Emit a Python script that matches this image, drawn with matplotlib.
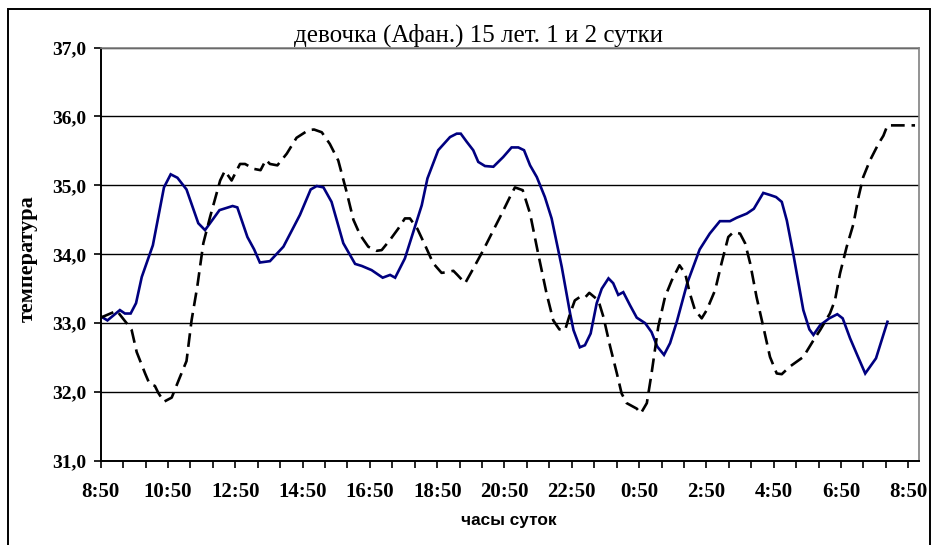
import matplotlib
matplotlib.use("Agg")
import matplotlib.pyplot as plt
from matplotlib.patches import Rectangle
import numpy as np

# Hours elapsed since 8:50 on day 1, and skin temperature readings
day1_hours = [
    0.00, 0.20, 0.57, 0.72, 0.89, 1.05, 1.22, 1.55, 1.88, 2.08, 2.28, 2.55,
    2.90, 3.10, 3.53, 3.92, 4.06, 4.36, 4.56, 4.73, 5.03, 5.43, 5.92, 6.24,
    6.42, 6.62, 6.86, 7.21, 7.56, 7.76, 8.05, 8.38, 8.60, 8.75, 9.04, 9.54,
    9.71, 10.03, 10.38, 10.58, 10.70, 10.88, 11.07, 11.22, 11.42, 11.67,
    11.96, 12.21, 12.41, 12.58, 12.76, 12.96, 13.20, 13.40, 13.70, 13.95,
    14.05, 14.24, 14.39, 14.56, 14.74, 14.89, 15.09, 15.23, 15.38, 15.53,
    15.73, 15.93, 16.18, 16.37, 16.54, 16.74, 16.92, 17.12, 17.43, 17.80,
    18.10, 18.40, 18.70, 18.90, 19.20, 19.41, 19.69, 19.89, 20.07, 20.24,
    20.39, 20.58, 20.88, 21.06, 21.18, 21.38, 21.65, 21.89, 22.05, 22.27,
    22.48, 22.72, 23.04, 23.38,
]
day1_temp = [
    33.10, 33.04, 33.19, 33.14, 33.14, 33.29, 33.67, 34.13, 34.97, 35.16,
    35.11, 34.94, 34.45, 34.35, 34.64, 34.70, 34.68, 34.25, 34.07, 33.88,
    33.90, 34.11, 34.57, 34.94, 34.99, 34.97, 34.76, 34.16, 33.86, 33.83,
    33.77, 33.66, 33.70, 33.66, 33.94, 34.71, 35.10, 35.51, 35.70, 35.75,
    35.75, 35.63, 35.51, 35.34, 35.28, 35.27, 35.41, 35.55, 35.55, 35.51,
    35.29, 35.12, 34.83, 34.52, 33.82, 33.14, 32.90, 32.65, 32.68, 32.85,
    33.29, 33.50, 33.65, 33.58, 33.41, 33.45, 33.26, 33.08, 33.00, 32.87,
    32.66, 32.54, 32.71, 33.02, 33.58, 34.07, 34.30, 34.48, 34.48, 34.53,
    34.59, 34.66, 34.89, 34.86, 34.83, 34.76, 34.49, 34.01, 33.19, 32.91,
    32.83, 32.97, 33.07, 33.13, 33.07, 32.78, 32.54, 32.27, 32.49, 33.02,
]

day2_hours = [
    0.00, 0.48, 0.77, 0.92, 1.07, 1.32, 1.45, 1.61, 1.71, 1.88, 2.11, 2.34,
    2.55, 2.70, 2.87, 3.05, 3.25, 3.55, 3.69, 3.89, 4.14, 4.29, 4.54, 4.75,
    4.91, 5.03, 5.25, 5.53, 5.82, 6.17, 6.34, 6.57, 6.81, 7.06, 7.31, 7.51,
    7.71, 7.95, 8.20, 8.35, 8.60, 8.84, 9.04, 9.19, 9.41, 9.64, 9.88, 10.13,
    10.30, 10.48, 10.60, 10.83, 11.07, 11.37, 11.67, 11.92, 12.16, 12.31,
    12.54, 12.76, 13.00, 13.25, 13.45, 13.63, 13.80, 13.95, 14.09, 14.24,
    14.39, 14.52, 14.79, 14.94, 15.14, 15.34, 15.48, 15.63, 15.93, 16.05,
    16.23, 16.37, 16.57, 16.77, 16.97, 17.20, 17.37, 17.51, 17.66, 17.86,
    18.01, 18.26, 18.45, 18.65, 18.80, 19.00, 19.15, 19.30, 19.49, 19.69,
    19.89, 20.09, 20.24, 20.48, 20.88, 21.18, 21.38, 21.67, 21.82, 21.97,
    22.17, 22.37, 22.52, 22.66, 22.86, 23.11, 23.26, 23.38, 24.20,
]
day2_temp = [
    33.08, 33.18, 33.00, 32.90, 32.58, 32.27, 32.12, 32.09, 31.99, 31.86,
    31.92, 32.20, 32.45, 33.04, 33.53, 34.16, 34.54, 35.07, 35.21, 35.07,
    35.31, 35.31, 35.24, 35.22, 35.37, 35.31, 35.29, 35.46, 35.69, 35.80,
    35.81, 35.77, 35.60, 35.36, 34.90, 34.50, 34.28, 34.11, 34.05, 34.06,
    34.21, 34.37, 34.52, 34.52, 34.37, 34.13, 33.87, 33.73, 33.74, 33.76,
    33.70, 33.58, 33.79, 34.06, 34.35, 34.59, 34.83, 34.97, 34.93, 34.59,
    34.01, 33.43, 33.04, 32.91, 32.90, 33.14, 33.33, 33.38, 33.37, 33.44,
    33.33, 33.09, 32.66, 32.27, 31.98, 31.84, 31.76, 31.69, 31.84, 32.27,
    32.95, 33.38, 33.62, 33.84, 33.72, 33.43, 33.19, 33.07, 33.19, 33.48,
    33.87, 34.25, 34.32, 34.30, 34.16, 33.87, 33.38, 32.95, 32.51, 32.27,
    32.26, 32.37, 32.51, 32.75, 32.90, 33.14, 33.33, 33.72, 34.11, 34.44,
    34.83, 35.12, 35.36, 35.60, 35.72, 35.87, 35.87,
]

clock_labels = ["8:50", "10:50", "12:50", "14:50", "16:50", "18:50", "20:50",
                "22:50", "0:50", "2:50", "4:50", "6:50", "8:50"]
temp_ticks = [31, 32, 33, 34, 35, 36, 37]

W, H = 933, 545
fig = plt.figure(figsize=(W / 100, H / 100), dpi=100)

# outer chart frame
fig.patches.append(Rectangle((8 / W, -0.01), (930 - 8) / W, 1 - 9 / H + 0.01,
                             transform=fig.transFigure, fill=False,
                             edgecolor="black", linewidth=1.4))

ax = fig.add_axes([100.7 / W, 1 - 461 / H, (919 - 100.7) / W, (461 - 47.5) / H])

ax.plot(day1_hours, day1_temp, color="#000080", linewidth=1.9,
        solid_joinstyle="miter")
ax.plot(day2_hours, day2_temp, color="black", linewidth=1.9,
        dashes=(5.2, 2.6), dash_capstyle="butt")

ax.set_xlim(0, (919 - 100.7) / 33.65)
ax.set_ylim(31, 37)

ax.set_yticks(temp_ticks)
ax.set_yticklabels([f"{t},0" for t in temp_ticks],
                   fontfamily="Liberation Serif", fontweight="bold", fontsize=14)
ax.yaxis.grid(True, color="black", linewidth=1.0)
ax.set_axisbelow(True)

ax.set_xticks(np.arange(0, 25, 2))
ax.set_xticks(np.arange(0, 24.01, 2 / 3), minor=True)
ax.set_xticklabels(clock_labels, fontfamily="Liberation Serif",
                   fontweight="bold", fontsize=15)
ax.tick_params(axis="x", which="both", direction="out", length=5, width=1.2,
               pad=10, colors="black")
ax.tick_params(axis="y", direction="out", length=5, width=1.2, pad=5.5)

for side in ("top", "right"):
    ax.spines[side].set_color("#808080")
    ax.spines[side].set_linewidth(1.2)
for side in ("left", "bottom"):
    ax.spines[side].set_color("black")
    ax.spines[side].set_linewidth(1.4)

fig.text(479 / W, 1 - 42 / H, "девочка (Афан.) 15 лет. 1 и 2 сутки",
         ha="center", va="baseline", fontfamily="Liberation Serif", fontsize=18)
fig.text(28 / W, 1 - 259 / H, "температура", rotation=90, ha="center",
         va="center", fontfamily="Liberation Serif", fontweight="bold",
         fontsize=16)
fig.text(509 / W, 1 - 521 / H, "часы суток", ha="center", va="center",
         fontfamily="Liberation Sans", fontweight="bold", fontsize=12.4)

fig.savefig("out.png", dpi=100)
